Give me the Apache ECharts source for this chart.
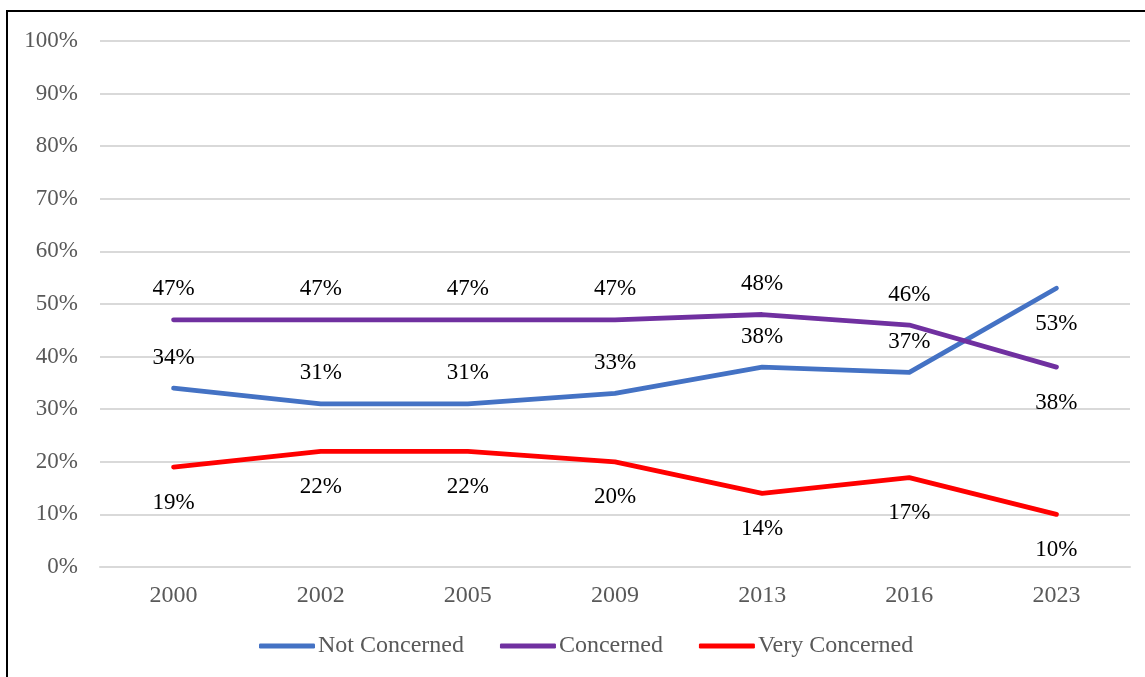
<!DOCTYPE html>
<html>
<head>
<meta charset="utf-8">
<script src="https://cdn.jsdelivr.net/npm/echarts@6/dist/echarts.min.js"></script>
<style>
html,body{margin:0;padding:0;background:#fff;overflow:hidden;}
#wrap{position:relative;width:1145px;height:677px;overflow:hidden;}
#chart{position:absolute;left:0;top:0;width:1145px;height:677px;}
#frame{position:absolute;left:6px;top:10px;width:1200px;height:720px;border:2px solid #000;box-sizing:border-box;pointer-events:none;}
</style>
</head>
<body>
<div id="wrap"><div id="chart"></div><div id="frame"></div></div>
<script>
const years = ['2000','2002','2005','2009','2013','2016','2023'];
const notConcerned = [34, 31, 31, 33, 38, 37, 53];
const concerned = [47, 47, 47, 47, 48, 46, 38];
const veryConcerned = [19, 22, 22, 20, 14, 17, 10];
// label placement per point (as in the reference)
const notConcernedPos = ['top','top','top','top','top','top','bottom'];
const concernedPos = ['top','top','top','top','top','top','bottom'];
const veryConcernedPos = ['bottom','bottom','bottom','bottom','bottom','bottom','bottom'];

const FONT = '"Liberation Serif", "Times New Roman", serif';
const FS = 23;
function mk(vals, pos){
  return vals.map((v,i)=>({value:v, label:{position:pos[i], distance: pos[i]==='top' ? 19 : 24}}));
}
function series(name, vals, pos, color){
  return {
    name, type:'line', data: mk(vals,pos),
    symbol:'circle', symbolSize:0.1, showSymbol:true,
    lineStyle:{width:4.8, color, cap:'round', join:'round'},
    itemStyle:{color},
    label:{show:true, distance:19, fontFamily:FONT, fontSize:FS, color:'#000',
      formatter: p => p.value + '%'},
    emphasis:{disabled:true},
    animation:false
  };
}
const chart = echarts.init(document.getElementById('chart'), null, {renderer:'canvas'});
chart.setOption({
  animation:false,
  grid:{left:100, right:15, top:41, bottom:110, containLabel:false},
  legend:{
    bottom:14, left:254, itemWidth:56, itemHeight:5, itemGap:36,
    icon:'roundRect',
    textStyle:{fontFamily:FONT, fontSize:24, color:'#595959', padding:[0,0,0,-2]},
    data:['Not Concerned','Concerned','Very Concerned']
  },
  xAxis:{
    type:'category', data:years, boundaryGap:true,
    axisLine:{show:true, lineStyle:{color:'#d9d9d9', width:2}},
    axisTick:{show:false},
    axisLabel:{fontFamily:FONT, fontSize:24, color:'#595959', margin:17}
  },
  yAxis:{
    type:'value', min:0, max:100, interval:10,
    axisLine:{show:false}, axisTick:{show:false},
    splitLine:{lineStyle:{color:'#d9d9d9', width:2}},
    axisLabel:{fontFamily:FONT, fontSize:FS, color:'#595959', margin:22,
      formatter: v => v + '%'}
  },
  series:[
    series('Not Concerned', notConcerned, notConcernedPos, '#4472C4'),
    series('Concerned', concerned, concernedPos, '#7030A0'),
    series('Very Concerned', veryConcerned, veryConcernedPos, '#FF0000')
  ]
});
</script>
</body>
</html>
